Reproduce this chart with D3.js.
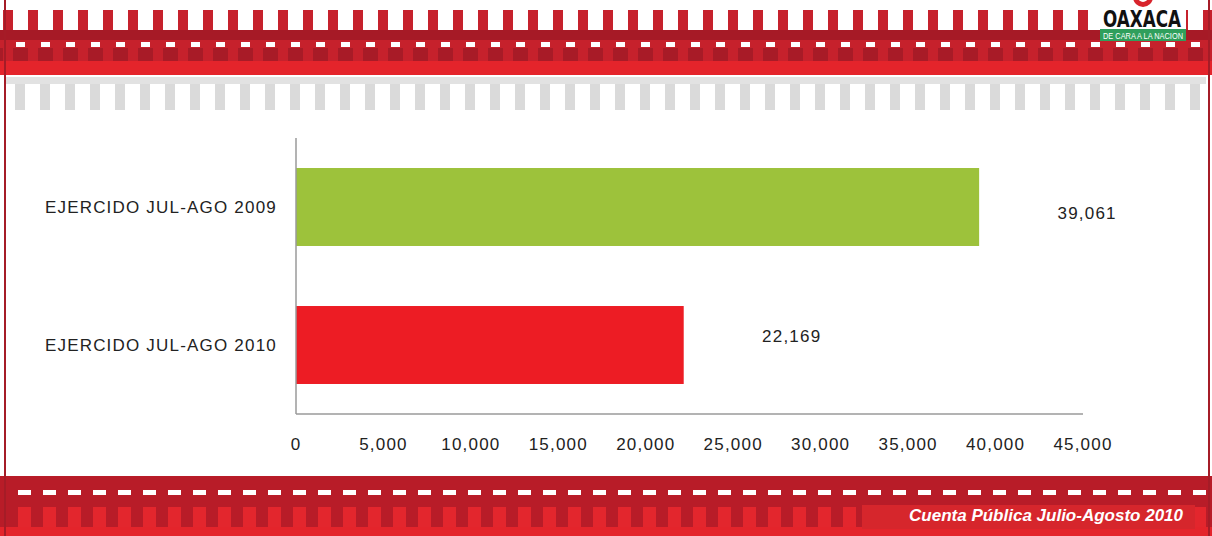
<!DOCTYPE html>
<html lang="es">
<head>
<meta charset="UTF-8">
<title>Ejercido Jul-Ago</title>
<script src="https://d3js.org/d3.v7.min.js"></script>
<style>
    body { margin: 0; background: #fff; }
    text { font-family: "Liberation Sans", Arial, sans-serif; }
    .tick-label, .cat-label, .val-label { font-size: 17px; fill: #222; letter-spacing: 1.2px; }
</style>
</head>
<body>
<script>

    var width = 1212,
        height = 536;

    // data
    var categories = ["EJERCIDO JUL-AGO 2009", "EJERCIDO JUL-AGO 2010"];
    var values = [39061, 22169];
    var barColors = ["#9dc23b", "#ed1c24"];
    var tickValues = [0, 5000, 10000, 15000, 20000, 25000, 30000, 35000, 40000, 45000];
    var footerText = "Cuenta Pública Julio-Agosto  2010";

    var svg = d3.select("body").append("svg")
        .attr("width", width)
        .attr("height", height);

    // ---- top decoration ----
    var topBand = svg.append("g");
    var picketX = d3.range(3, width, 25);

    topBand.append("rect").attr("x", 0).attr("y", 30).attr("width", width).attr("height", 31).attr("fill", "#a81b27");
    topBand.selectAll(".pk").data(picketX).enter().append("rect")
        .attr("x", function(d) { return d; }).attr("y", 10)
        .attr("width", 10).attr("height", 51).attr("fill", "#c6212c");
    topBand.append("rect").attr("x", 0).attr("y", 30).attr("width", width).attr("height", 10).attr("fill", "#a61a26");
    topBand.append("rect").attr("x", 0).attr("y", 40).attr("width", width).attr("height", 8).attr("fill", "#c6212c");
    topBand.selectAll(".dash").data(d3.range(16, width, 25)).enter().append("rect")
        .attr("x", function(d) { return d; }).attr("y", 42)
        .attr("width", 9).attr("height", 5).attr("fill", "#fff");
    topBand.append("rect").attr("x", 0).attr("y", 61).attr("width", width).attr("height", 14).attr("fill", "#e4242b");
    // grey pickets
    topBand.selectAll(".gp").data(d3.range(15, width, 25)).enter().append("rect")
        .attr("x", function(d) { return d; }).attr("y", 77)
        .attr("width", 10).attr("height", 33).attr("fill", "#dadada");
    topBand.append("rect").attr("x", 6).attr("y", 77).attr("width", width - 12).attr("height", 7).attr("fill", "#e2e2e2");

    // logo
    var logo = svg.append("g");
    logo.append("rect").attr("x", 1098).attr("y", 0).attr("width", 88).attr("height", 29).attr("fill", "#fff");
    logo.append("circle").attr("cx", 1143).attr("cy", -3).attr("r", 10).attr("fill", "#d8242c");
    logo.append("circle").attr("cx", 1143).attr("cy", -3).attr("r", 5).attr("fill", "#fff");
    logo.append("text").attr("x", 1103).attr("y", 27)
        .attr("textLength", 78).attr("lengthAdjust", "spacingAndGlyphs")
        .style("font-family", "'DejaVu Sans Condensed', 'Liberation Sans Narrow', sans-serif")
        .style("font-weight", "bold").style("font-size", "23px").style("fill", "#111")
        .text("OAXACA");
    logo.append("rect").attr("x", 1100).attr("y", 29).attr("width", 86).attr("height", 12).attr("fill", "#2f9f5c");
    logo.append("text").attr("x", 1103).attr("y", 38.5)
        .attr("textLength", 80).attr("lengthAdjust", "spacingAndGlyphs")
        .style("font-family", "'Liberation Sans Narrow', sans-serif")
        .style("font-size", "8.5px").style("fill", "#fff")
        .text("DE CARA A LA NACION");

    // ---- bottom decoration ----
    var bot = svg.append("g");
    bot.append("rect").attr("x", 0).attr("y", 476).attr("width", width).attr("height", 60).attr("fill", "#b81c28");
    bot.selectAll(".bd").data(d3.range(18, width, 25)).enter().append("rect")
        .attr("x", function(d) { return d; }).attr("y", 490)
        .attr("width", 13).attr("height", 5).attr("fill", "#fff");
    bot.selectAll(".bp").data(d3.range(18, width, 25)).enter().append("rect")
        .attr("x", function(d) { return d; }).attr("y", 507)
        .attr("width", 13).attr("height", 22).attr("fill", "#e3262d");
    bot.append("rect").attr("x", 0).attr("y", 527).attr("width", width).attr("height", 9).attr("fill", "#e4242b");
    bot.append("rect").attr("x", 862).attr("y", 505).attr("width", 333).attr("height", 24).attr("fill", "#d6262c");
    bot.append("text").attr("x", 1183).attr("y", 521)
        .attr("text-anchor", "end")
        .style("font-style", "italic").style("font-weight", "bold")
        .style("font-size", "17px").style("fill", "#fff")
        .text(footerText);

    // side borders
    svg.append("rect").attr("x", 4).attr("y", 0).attr("width", 2).attr("height", height).attr("fill", "#a51c27");
    svg.append("rect").attr("x", 1208).attr("y", 0).attr("width", 2).attr("height", height).attr("fill", "#a51c27");

    // ---- chart ----
    var x = d3.scaleLinear().domain([0, 45000]).range([296, 1083]);
    var y = d3.scaleBand().domain(categories).range([138, 414])
        .paddingInner(0.435).paddingOuter(0.2175);

    var chart = svg.append("g");

    chart.selectAll(".bar").data(values).enter().append("rect")
        .attr("class", "bar")
        .attr("x", x(0))
        .attr("y", function(d, i) { return y(categories[i]); })
        .attr("width", function(d) { return x(d) - x(0); })
        .attr("height", y.bandwidth())
        .attr("fill", function(d, i) { return barColors[i]; });

    // axis lines
    chart.append("line").attr("x1", x(0)).attr("x2", x(0)).attr("y1", 138).attr("y2", 414)
        .attr("stroke", "#9a9a9a").attr("stroke-width", 1.5);
    chart.append("line").attr("x1", x(0)).attr("x2", x(45000)).attr("y1", 414).attr("y2", 414)
        .attr("stroke", "#9a9a9a").attr("stroke-width", 1.5);

    var fmt = d3.format(",");

    chart.selectAll(".tick-label").data(tickValues).enter().append("text")
        .attr("class", "tick-label")
        .attr("x", function(d) { return x(d); })
        .attr("y", 450)
        .attr("text-anchor", "middle")
        .text(function(d) { return fmt(d); });

    chart.selectAll(".cat-label").data(categories).enter().append("text")
        .attr("class", "cat-label")
        .attr("x", 277)
        .attr("y", function(d) { return y(d) + y.bandwidth() / 2 + 6; })
        .attr("text-anchor", "end")
        .text(function(d) { return d; });

    // value labels sit off to the right of each bar
    var labelDy = [12, -3];
    chart.selectAll(".val-label").data(values).enter().append("text")
        .attr("class", "val-label")
        .attr("x", function(d) { return x(d) + 108; })
        .attr("y", function(d, i) { return y(categories[i]) + y.bandwidth() / 2 + labelDy[i]; })
        .attr("text-anchor", "middle")
        .text(function(d) { return fmt(d); });

</script>
</body>
</html>
